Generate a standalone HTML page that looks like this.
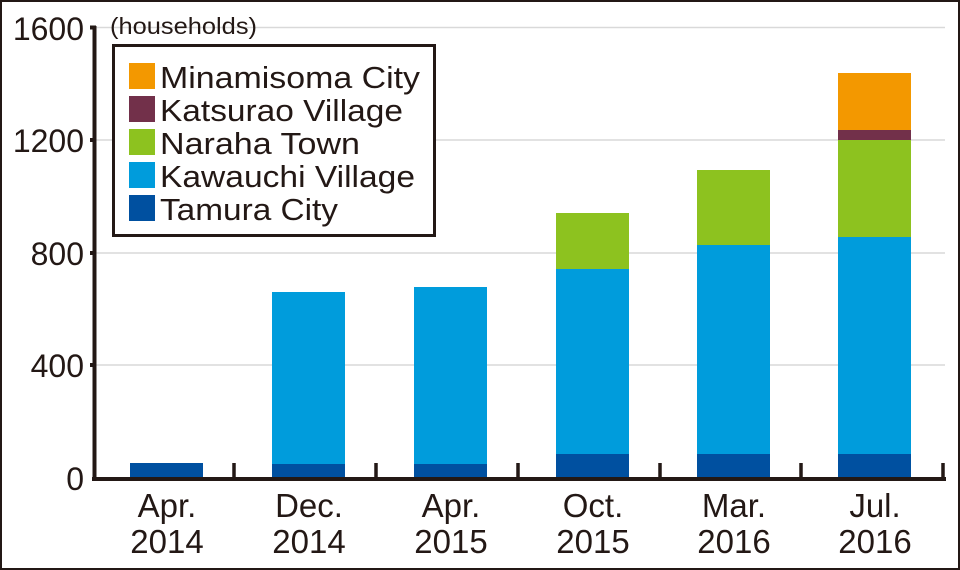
<!DOCTYPE html>
<html><head><meta charset="utf-8"><style>
html,body{margin:0;padding:0;background:#fff}
svg{display:block}
text{font-family:"Liberation Sans",Arial,sans-serif;fill:#231815}
</style></head><body>
<svg width="960" height="570" viewBox="0 0 960 570">
<rect x="1" y="1" width="958" height="568" fill="#fff" stroke="#231815" stroke-width="2"/>
<g stroke="#d9d9d9" stroke-width="1.5">
<line x1="96" y1="27.5" x2="945" y2="27.5"/>
<line x1="96" y1="140" x2="945" y2="140"/>
<line x1="96" y1="253" x2="945" y2="253"/>
<line x1="96" y1="365" x2="945" y2="365"/>
</g>
<g>
<rect x="130" y="463" width="73" height="15" fill="#0050a0"/>
<rect x="272" y="292" width="73" height="172" fill="#009cdc"/>
<rect x="272" y="464" width="73" height="14" fill="#0050a0"/>
<rect x="414" y="287" width="73" height="177" fill="#009cdc"/>
<rect x="414" y="464" width="73" height="14" fill="#0050a0"/>
<rect x="556" y="213" width="73" height="56" fill="#8dc21f"/>
<rect x="556" y="269" width="73" height="185" fill="#009cdc"/>
<rect x="556" y="454" width="73" height="24" fill="#0050a0"/>
<rect x="697" y="170" width="73" height="75" fill="#8dc21f"/>
<rect x="697" y="245" width="73" height="209" fill="#009cdc"/>
<rect x="697" y="454" width="73" height="24" fill="#0050a0"/>
<rect x="838" y="73" width="73" height="57" fill="#f39800"/>
<rect x="838" y="130" width="73" height="10" fill="#72304a"/>
<rect x="838" y="140" width="73" height="97" fill="#8dc21f"/>
<rect x="838" y="237" width="73" height="217" fill="#009cdc"/>
<rect x="838" y="454" width="73" height="24" fill="#0050a0"/>
</g>
<g stroke="#231815" fill="none">
<line x1="94.5" y1="26" x2="94.5" y2="481" stroke-width="4"/>
<line x1="92" y1="479" x2="946" y2="479" stroke-width="4"/>
<g stroke-width="4">
<line x1="90" y1="27.5" x2="96" y2="27.5"/>
<line x1="90" y1="140" x2="96" y2="140"/>
<line x1="90" y1="253" x2="96" y2="253"/>
<line x1="90" y1="365" x2="96" y2="365"/>
</g>
<g stroke-width="3.5">
<line x1="234" y1="463" x2="234" y2="479"/>
<line x1="376" y1="463" x2="376" y2="479"/>
<line x1="518" y1="463" x2="518" y2="479"/>
<line x1="660" y1="463" x2="660" y2="479"/>
<line x1="801" y1="463" x2="801" y2="479"/>
<line x1="943" y1="463" x2="943" y2="479"/>
</g>
</g>
<g font-size="32" text-anchor="end">
<text x="84" y="40">1600</text>
<text x="84" y="152">1200</text>
<text x="84" y="265">800</text>
<text x="84" y="377">400</text>
<text x="84" y="490">0</text>
</g>
<text x="110" y="34" font-size="23" textLength="147" lengthAdjust="spacingAndGlyphs">(households)</text>
<g font-size="33" text-anchor="middle">
<text x="167" y="517">Apr.</text><text x="167" y="553">2014</text>
<text x="309" y="517">Dec.</text><text x="309" y="553">2014</text>
<text x="451" y="517">Apr.</text><text x="451" y="553">2015</text>
<text x="593" y="517">Oct.</text><text x="593" y="553">2015</text>
<text x="734" y="517">Mar.</text><text x="734" y="553">2016</text>
<text x="875" y="517">Jul.</text><text x="875" y="553">2016</text>
</g>
<rect x="113.5" y="45.5" width="321" height="190" fill="#fff" stroke="#231815" stroke-width="3"/>
<g>
<rect x="129" y="63" width="26" height="26" fill="#f39800"/>
<rect x="129" y="96" width="26" height="26" fill="#72304a"/>
<rect x="129" y="129" width="26" height="26" fill="#8dc21f"/>
<rect x="129" y="162" width="26" height="26" fill="#009cdc"/>
<rect x="129" y="195" width="26" height="26" fill="#0050a0"/>
</g>
<g font-size="31" lengthAdjust="spacingAndGlyphs">
<text x="160" y="88" textLength="260" lengthAdjust="spacingAndGlyphs">Minamisoma City</text>
<text x="160" y="121" textLength="243" lengthAdjust="spacingAndGlyphs">Katsurao Village</text>
<text x="160" y="154" textLength="200" lengthAdjust="spacingAndGlyphs">Naraha Town</text>
<text x="160" y="187" textLength="255" lengthAdjust="spacingAndGlyphs">Kawauchi Village</text>
<text x="160" y="220" textLength="178" lengthAdjust="spacingAndGlyphs">Tamura City</text>
</g>
</svg>
</body></html>
